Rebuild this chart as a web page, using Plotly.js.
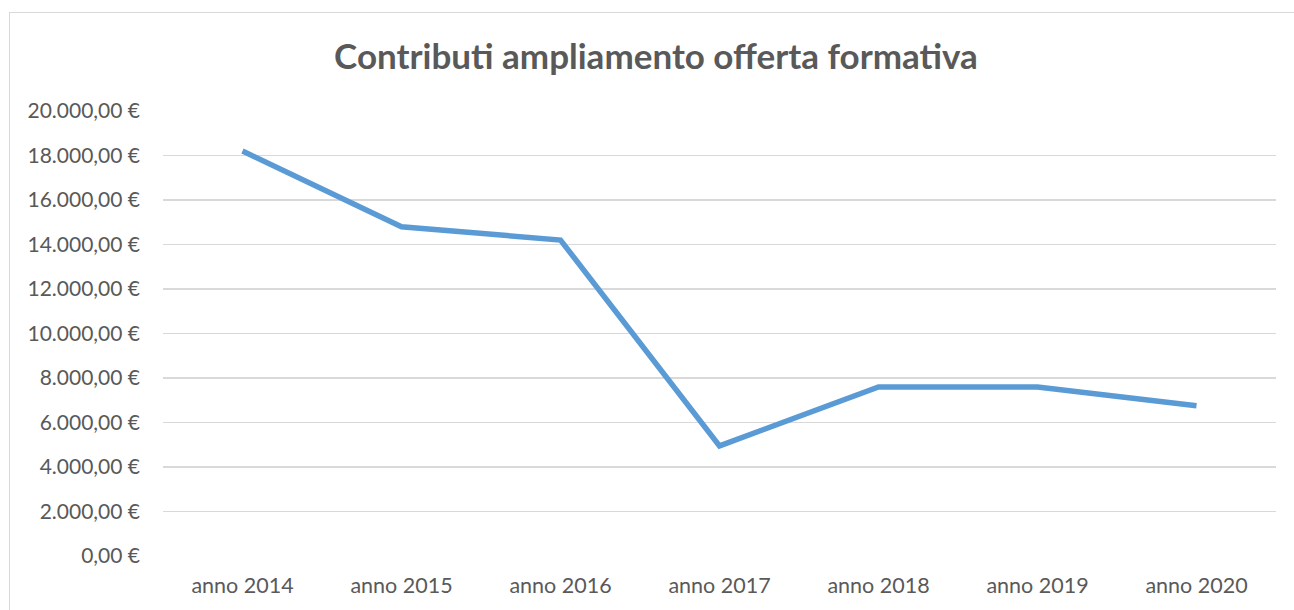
<!DOCTYPE html>
<html>
<head>
<meta charset="utf-8">
<script src="https://cdn.plot.ly/plotly-3.0.1.min.js"></script>
<style>
  html, body { margin: 0; padding: 0; background: #ffffff; }
  #frame { position: absolute; left: 0; top: 0; width: 1294px; height: 610px; overflow: hidden; }
  #border { position: absolute; left: 9px; top: 12px; width: 1300px; height: 620px; border: 1px solid #d9d9d9; box-sizing: border-box; }
  #chart { position: absolute; left: 0; top: 0; width: 1294px; height: 610px; }
</style>
</head>
<body>
<div id="frame">
  <div id="border"></div>
  <div id="chart"></div>
</div>
<script>
const categories = ["anno 2014", "anno 2015", "anno 2016", "anno 2017", "anno 2018", "anno 2019", "anno 2020"];
const values = [18200, 14800, 14200, 4950, 7600, 7600, 6750];
const tickValues = [0, 2000, 4000, 6000, 8000, 10000, 12000, 14000, 16000, 18000, 20000];
const tickLabels = ["0,00 €", "2.000,00 €", "4.000,00 €", "6.000,00 €", "8.000,00 €", "10.000,00 €", "12.000,00 €", "14.000,00 €", "16.000,00 €", "18.000,00 €", "20.000,00 €"];
const chartTitle = "Contributi ampliamento offerta formativa";

const trace = {
  type: "scatter",
  mode: "lines",
  x: categories,
  y: values,
  line: { color: "#5B9BD5", width: 5.5, shape: "linear" },
  hoverinfo: "x+y"
};

const layout = {
  width: 1294,
  height: 610,
  paper_bgcolor: "rgba(0,0,0,0)",
  plot_bgcolor: "rgba(0,0,0,0)",
  margin: { l: 163, r: 18, t: 111, b: 54 },
  showlegend: false,
  font: { family: "Lato, 'Open Sans', sans-serif", color: "#595959", size: 21 },
  title: {
    text: "<b>" + chartTitle + "</b>",
    font: { family: "Lato, 'Open Sans', sans-serif", size: 35, color: "#595959" },
    x: 656 / 1294, xref: "container", xanchor: "center",
    y: 1 - 57 / 610, yref: "container", yanchor: "middle"
  },
  xaxis: {
    type: "category",
    range: [-0.5, 6.5],
    showgrid: false,
    zeroline: false,
    showline: false,
    ticks: "",
    ticklabelstandoff: 14,
    tickfont: { size: 21.5, color: "#595959" }
  },
  yaxis: {
    range: [0, 20000],
    tickmode: "array",
    tickvals: tickValues,
    ticktext: tickLabels,
    showgrid: true,
    gridcolor: "#d9d9d9",
    gridwidth: 1.3,
    zeroline: false,
    showline: false,
    ticks: "",
    ticklabelstandoff: 22,
    tickfont: { size: 21, color: "#595959" }
  }
};

Plotly.newPlot("chart", [trace], layout, { displayModeBar: false, staticPlot: true });
</script>
</body>
</html>
